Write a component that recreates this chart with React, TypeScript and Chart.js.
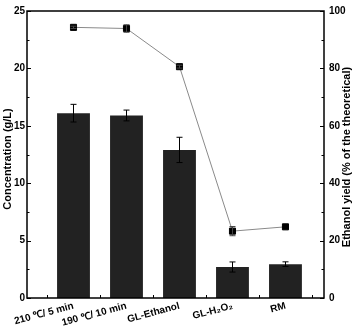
import React, { useEffect, useRef } from "react";
import { Chart, registerables } from "chart.js";
Chart.register(...registerables);

const categories = ["210 ℃/ 5 min", "190 ℃/ 10 min", "GL-Ethanol", "GL-H₂O₂", "RM"];
const concentration = [16.1, 15.9, 12.9, 2.7, 2.95];
const concentrationErr = [0.77, 0.47, 1.1, 0.44, 0.2];
const ethanolYield = [94.3, 93.9, 80.6, 23.3, 24.8];
const yieldErr = [0.4, 1.3, 0.5, 1.6, 0];
const leftTitle = "Concentration (g/L)";
const rightTitle = "Ethanol yield (% of the theoretical)";

const FONT = "'Liberation Sans', Arial, sans-serif";

const decor = {
  id: "decor",
  afterDatasetDraw(chart: any, args: any) {
    const ds = chart.data.datasets[args.index];
    const errs = ds.errors as number[] | undefined;
    if (!errs) return;
    const ctx = chart.ctx;
    const xs = chart.scales.x;
    const ys = chart.scales[ds.yAxisID];
    ctx.save();
    ctx.strokeStyle = ds.errColor || "#000";
    ctx.lineWidth = 1;
    ds.data.forEach((p: any, i: number) => {
      const e = errs[i];
      if (!e) return;
      const x = Math.round(xs.getPixelForValue(p.x)) + 0.5;
      const y1 = ys.getPixelForValue(p.y + e);
      const y2 = ys.getPixelForValue(p.y - e);
      ctx.beginPath();
      ctx.moveTo(x, y1);
      ctx.lineTo(x, y2);
      ctx.moveTo(x - 3, y1);
      ctx.lineTo(x + 3, y1);
      ctx.moveTo(x - 3, y2);
      ctx.lineTo(x + 3, y2);
      ctx.stroke();
    });
    ctx.restore();
  },
  afterDraw(chart: any) {
    const ctx = chart.ctx;
    const a = chart.chartArea;
    const yl = chart.scales.y;
    const yr = chart.scales.y2;
    const xs = chart.scales.x;
    ctx.save();
    ctx.strokeStyle = "#000";
    ctx.lineWidth = 1.5;
    ctx.strokeRect(a.left, a.top, a.right - a.left, a.bottom - a.top);
    ctx.lineWidth = 1;
    ctx.beginPath();
    for (let v = 0; v <= 25; v += 2.5) {
      const y = Math.round(yl.getPixelForValue(v)) + 0.5;
      const len = v % 5 === 0 ? 4 : 2.5;
      ctx.moveTo(a.left, y);
      ctx.lineTo(a.left + len, y);
    }
    for (let v = 0; v <= 100; v += 10) {
      const y = Math.round(yr.getPixelForValue(v)) + 0.5;
      const len = v % 20 === 0 ? 4 : 2.5;
      ctx.moveTo(a.right, y);
      ctx.lineTo(a.right - len, y);
    }
    for (let i = 0; i <= categories.length; i++) {
      const x = Math.round(xs.getPixelForValue(i + 0.5)) + 0.5;
      ctx.moveTo(x, a.bottom);
      ctx.lineTo(x, a.bottom - 3);
    }
    ctx.stroke();
    ctx.fillStyle = "#000";
    ctx.font = `bold 11px ${FONT}`;
    ctx.textAlign = "center";
    ctx.textBaseline = "middle";
    ctx.save();
    ctx.translate(8, 159);
    ctx.rotate(-Math.PI / 2);
    ctx.fillText(leftTitle, 0, 0);
    ctx.restore();
    ctx.save();
    ctx.translate(347, 157);
    ctx.rotate(-Math.PI / 2);
    ctx.fillText(rightTitle, 0, 0);
    ctx.restore();
    ctx.restore();
  },
};

export default function App() {
  const ref = useRef<HTMLCanvasElement>(null);
  useEffect(() => {
    if (!ref.current) return;
    const xs = categories.map((_, i) => i + 1);
    const tickFont = { family: FONT, size: 10, weight: "bold" as const };
    const chart = new Chart(ref.current, {
      type: "bar",
      data: {
        datasets: [
          {
            type: "line",
            label: "Ethanol yield",
            data: xs.map((x, i) => ({ x, y: ethanolYield[i] })),
            yAxisID: "y2",
            borderColor: "#8a8a8a",
            borderWidth: 1,
            pointStyle: "rect",
            pointRadius: 4.3,
            pointBackgroundColor: "#000",
            pointBorderColor: "#000",
            pointBorderWidth: 1,
            order: 0,
            errors: yieldErr,
            errColor: "#444",
          } as any,
          {
            type: "bar",
            label: "Concentration",
            data: xs.map((x, i) => ({ x, y: concentration[i] })),
            yAxisID: "y",
            backgroundColor: "#222222",
            borderWidth: 0,
            barPercentage: 0.62,
            categoryPercentage: 1,
            order: 1,
            errors: concentrationErr,
            errColor: "#000",
          } as any,
        ],
      },
      options: {
        animation: false,
        responsive: true,
        maintainAspectRatio: false,
        layout: { padding: { top: 5, left: 0, right: 0, bottom: 0 } },
        plugins: { legend: { display: false }, tooltip: { enabled: false } },
        scales: {
          x: {
            type: "linear",
            offset: false,
            min: 0.1226,
            max: 5.727,
            grid: { display: false, drawTicks: false, offset: false },
            border: { display: false },
            afterBuildTicks: (s: any) => {
              s.ticks = xs.map((v) => ({ value: v }));
            },
            afterFit: (s: any) => {
              s.height = 29;
            },
            ticks: {
              autoSkip: false,
              minRotation: 15,
              maxRotation: 15,
              padding: 2,
              color: "#000",
              font: tickFont,
              callback: (v: any) => categories[Math.round(v) - 1] ?? "",
            },
          },
          y: {
            type: "linear",
            position: "left",
            min: 0,
            max: 25,
            grid: { display: false, drawTicks: false },
            border: { display: false },
            afterFit: (s: any) => {
              s.width = 27;
            },
            ticks: { stepSize: 5, padding: 2, color: "#000", font: tickFont },
          },
          y2: {
            type: "linear",
            position: "right",
            min: 0,
            max: 100,
            grid: { display: false, drawTicks: false },
            border: { display: false },
            afterFit: (s: any) => {
              s.width = 30;
            },
            ticks: { stepSize: 20, padding: 5, color: "#000", font: tickFont },
          },
        },
      } as any,
      plugins: [decor],
    });
    return () => chart.destroy();
  }, []);
  return (
    <div style={{ position: "absolute", left: 0, top: 0, width: 354, height: 327, background: "#fff" }}>
      <canvas ref={ref} />
    </div>
  );
}
